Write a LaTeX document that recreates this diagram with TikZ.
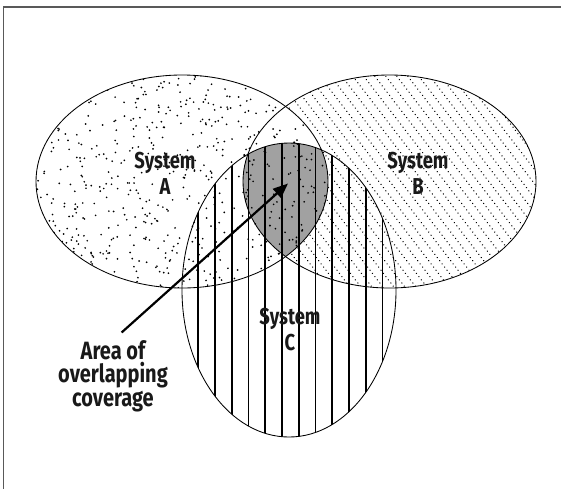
\documentclass[tikz,border=0pt]{standalone}
\usepackage{fontspec}
\newfontfamily\labfont{Fira Sans}[FakeStretch=0.8]
\usetikzlibrary{arrows.meta}
\tikzset{
  outline/.style={draw=black, line width=0.85pt},
  vline/.style={line width=1.7pt, black},
  dline/.style={line width=1.45pt, black, dash pattern=on 0.01pt off 4pt, line cap=round},
  syslabel/.style={font=\labfont\bfseries\fontsize{23}{26}\selectfont, align=center, inner sep=0pt, text=black!90},
  arealabel/.style={font=\labfont\bfseries\fontsize{25}{23.5}\selectfont, align=center, inner sep=0pt, text=black!90},
  pointer/.style={line width=2.2pt, -{Triangle[length=15pt,width=12pt]}},
  frameline/.style={draw=black!65, line width=1.6pt}
}
\begin{document}
\begin{tikzpicture}[x=1pt,y=-1pt]
\useasboundingbox (0,0) rectangle (561,488);
\def\pathA{(182,181.5) ellipse [x radius=146pt, y radius=106.5pt]}
\def\pathB{(389.5,181.5) ellipse [x radius=146.5pt, y radius=106.5pt]}
\def\pathC{(289,290) ellipse [x radius=107pt, y radius=147pt]}
% frame
\draw[frameline] (3.5,490) -- (3.5,6.7) -- (563,6.7);
% B diagonal dotted lines
\begin{scope}
\clip \pathB;
\foreach \s in {40,51,...,560}{
  \draw[dline] (\s,70) -- ++(180,234);
}
\end{scope}
% erase B pattern inside A
\fill[white] \pathA;
% grey triple overlap
\begin{scope}
\clip \pathA;
\clip \pathB;
\fill[black!37] \pathC;
\end{scope}
% A stipple
\pgfmathsetseed{7}
\begin{scope}
\clip \pathA;
\foreach \i in {1,...,620}{
  \pgfmathsetmacro\xx{36+292*rnd}
  \pgfmathsetmacro\yy{75+213*rnd}
  \fill (\xx,\yy) circle[radius=0.95pt];
}
\end{scope}
% C vertical lines
\begin{scope}
\clip \pathC;
\foreach \k in {0,...,11}{
  \draw[vline] (198.3+16.75*\k,140) -- (198.3+16.75*\k,440);
}
\end{scope}
% outlines
\draw[outline] \pathA;
\draw[outline] \pathB;
\draw[outline] \pathC;
% labels
\node[syslabel] (la) at (165,173.5) {System\\A};
\node[syslabel] (lb) at (418,173.5) {System\\B};
\node[syslabel] (lc) at (290,330) {System\\C};
\node[arealabel] (area) at (113,376) {Area of\\overlapping\\coverage};
\coordinate (tail) at (121.6,332.5);
\coordinate (tip) at (288,183.5);
\draw[pointer] (tail) -- (tip);
\end{tikzpicture}
\end{document}
